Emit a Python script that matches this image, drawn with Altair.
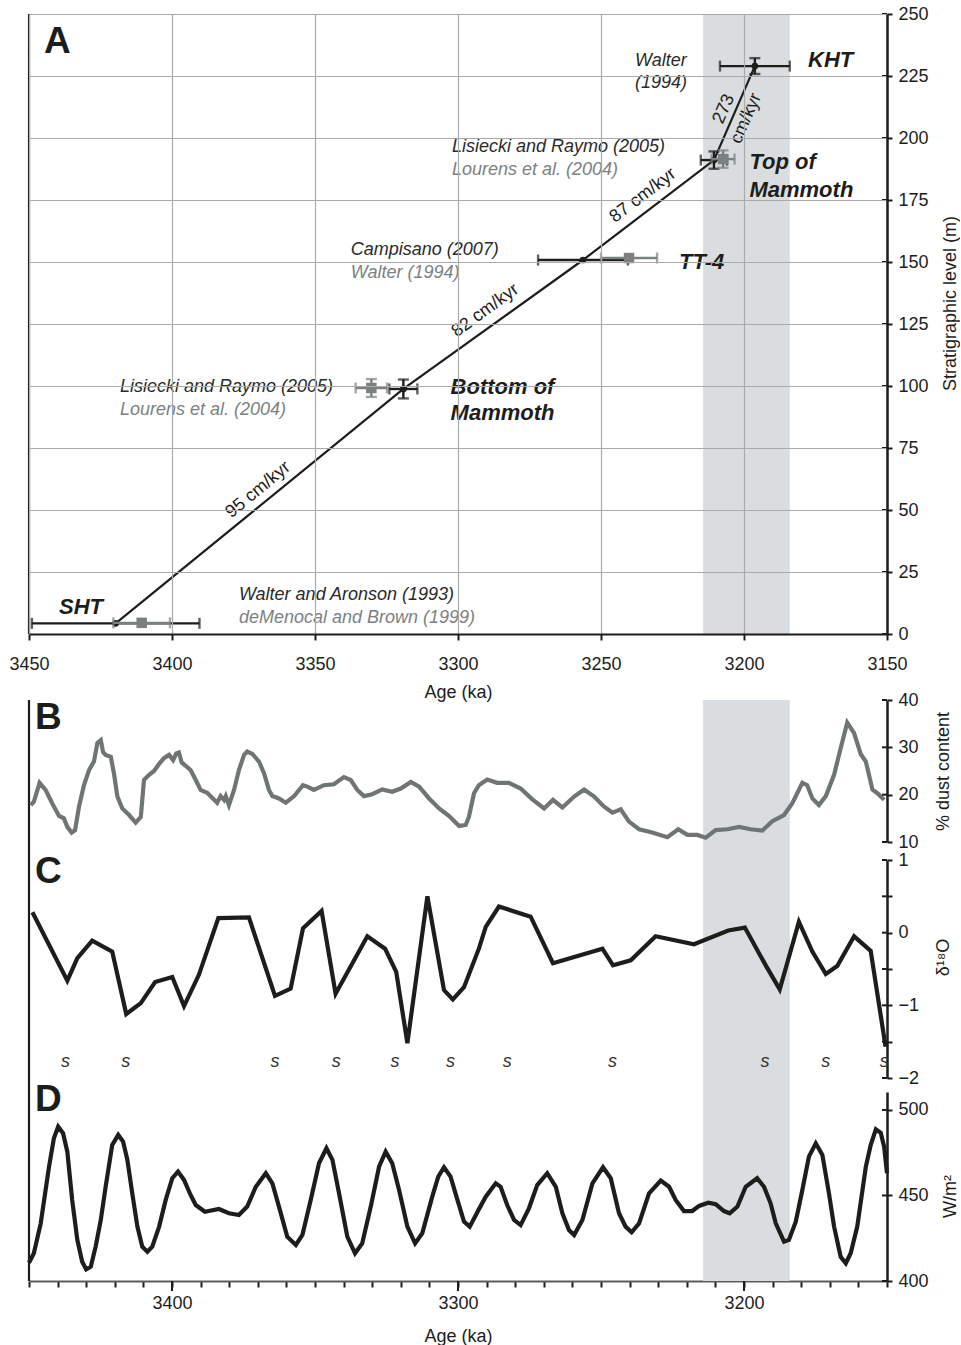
import altair as alt
import pandas as pd

# ---------------- data ----------------
# Panel A: tie points (black = ages used, grey = alternative ages)
tie_event = ["SHT", "Bottom of Mammoth", "TT-4", "Top of Mammoth", "KHT"]
tie_age = [3419.7, 3319.1, 3256.3, 3210.5, 3196.2]
tie_level = [4.3, 98.8, 150.8, 191.1, 229.0]
tie_age_err = [29.3, 4.9, 15.7, 4.6, 12.2]
tie_level_err = [0.0, 3.8, 0.0, 3.5, 3.2]

alt_event = ["SHT", "Bottom of Mammoth", "TT-4", "Top of Mammoth"]
alt_age = [3410.6, 3330.3, 3240.2, 3207.3]
alt_level = [4.5, 99.2, 151.6, 191.5]
alt_age_err = [9.9, 5.5, 9.8, 4.0]
alt_level_err = [0.0, 3.6, 0.0, 3.5]

band_start, band_end = 3214.3, 3184.0

rate_text = ["95 cm/kyr", "82 cm/kyr", "87 cm/kyr", "273", "cm/kyr"]
rate_age = [3369.9, 3290.4, 3235.3, 3207.0, 3199.2]
rate_level = [58.1, 130.4, 176.8, 211.7, 207.9]
rate_angle = [320.5, 324.0, 322.6, 293.6, 293.6]

note_text = ["Walter", "(1994)", "Lisiecki and Raymo (2005)", "Campisano (2007)",
             "Lisiecki and Raymo (2005)", "Walter and Aronson (1993)"]
note_age = [3238.1, 3238.1, 3302.1, 3337.5, 3418.2, 3376.6]
note_level = [231.2, 222.2, 196.4, 154.8, 99.6, 15.7]

gray_note_text = ["Lourens et al. (2004)", "Walter (1994)", "Lourens et al. (2004)",
                  "deMenocal and Brown (1999)"]
gray_note_age = [3302.1, 3337.5, 3418.2, 3376.6]
gray_note_level = [187.1, 145.7, 90.3, 6.3]

event_text = ["KHT", "Top of", "Mammoth", "TT-4", "Bottom of", "Mammoth", "SHT"]
event_age = [3177.6, 3198.1, 3198.1, 3222.7, 3302.6, 3302.6, 3439.5]
event_level = [231.5, 190.4, 179.0, 150.1, 99.7, 89.1, 11.0]

# Panel B: % dust content
b_age = [3449.4, 3448.3, 3446.3, 3444.2, 3441.9, 3439.5, 3437.8, 3436.6, 3435.1, 3433.9,
         3432.5, 3430.8, 3429.0, 3427.3, 3426.1, 3424.9, 3424.1, 3423.2, 3421.4, 3420.3,
         3419.1, 3417.4, 3415.0, 3412.7, 3410.9, 3409.8, 3408.0, 3406.3, 3404.5, 3402.8,
         3401.0, 3399.6, 3398.5, 3397.6, 3396.6, 3395.2, 3393.5, 3391.7, 3390.0, 3387.7,
         3385.7, 3384.2, 3383.0, 3381.8, 3381.2, 3380.1, 3378.3, 3376.6, 3374.8, 3373.7,
         3371.9, 3369.6, 3367.8, 3366.1, 3364.9, 3362.6, 3360.2, 3357.3, 3354.2, 3352.7,
         3350.4, 3346.9, 3343.4, 3339.9, 3337.5, 3335.2, 3332.9, 3330.0, 3326.5, 3323.0,
         3320.0, 3316.5, 3313.6, 3310.1, 3306.6, 3303.1, 3299.6, 3297.3, 3296.2, 3294.4,
         3292.7,
         3289.8, 3286.3, 3282.2, 3278.1, 3274.0, 3269.9, 3266.8, 3263.5, 3259.4, 3255.9,
         3252.4, 3249.0, 3246.0, 3243.1, 3240.2, 3236.7, 3232.1, 3226.8, 3223.0, 3219.8,
         3216.3, 3213.4, 3209.9, 3205.8, 3201.7, 3197.7, 3193.6, 3190.1, 3186.0, 3183.1,
         3179.6, 3177.9, 3176.1, 3173.8, 3171.4, 3168.5, 3166.2, 3163.9, 3161.5, 3159.2,
         3157.4, 3155.1, 3153.0, 3151.0]
b_val = [17.8, 18.5, 22.5, 21.0, 18.2, 15.5, 15.0, 13.2, 12.0, 12.5,
         17.5, 22.0, 25.2, 27.0, 30.9, 31.5, 29.0, 28.4, 28.0, 24.5,
         19.6, 17.1, 15.7, 14.1, 15.3, 23.1, 24.2, 25.0, 26.5, 27.7,
         28.4, 27.3, 28.7, 28.9, 26.8, 26.1, 25.2, 23.1, 21.0, 20.4,
         19.2, 18.3, 19.7, 18.9, 19.7, 17.8, 21.0, 25.2, 28.4, 29.1,
         28.6, 27.0, 24.5, 21.0, 19.7, 19.2, 18.3, 19.7, 22.0, 21.7,
         21.0, 22.0, 22.2, 23.7, 23.1, 21.0, 19.7, 20.1, 21.1, 20.6,
         21.3, 22.7, 21.7, 19.2, 17.1, 15.5, 13.4, 13.6, 15.3, 20.3,
         22.0,
         23.2, 22.5, 22.5, 21.3, 19.0, 17.1, 18.9, 17.3, 19.6, 21.1,
         19.6, 17.5, 16.2, 16.9, 14.3, 12.7, 12.0, 11.0, 12.7, 11.5,
         11.5, 10.9, 12.5, 12.7, 13.2, 12.7, 12.4, 14.4, 15.7, 18.2,
         22.5, 22.0, 19.2, 17.8, 19.7, 24.2, 29.8, 35.2, 33.0, 28.6,
         27.0, 21.1, 20.1, 18.9]

# Panel C: delta 18O
c_age = [3448.8, 3436.6, 3433.1, 3427.9, 3420.9, 3416.0, 3410.9, 3405.9, 3399.9, 3395.8,
         3390.6, 3383.8, 3373.1, 3364.0, 3358.5, 3354.2, 3347.7, 3342.8, 3331.7, 3325.5,
         3321.6, 3317.7, 3310.7, 3304.9, 3301.8, 3297.9, 3292.7, 3290.3, 3285.7, 3274.6,
         3266.8, 3249.5, 3245.8, 3239.6, 3230.9, 3217.5, 3205.5, 3199.7, 3192.4, 3187.5,
         3180.8, 3176.1, 3171.4, 3167.4, 3161.5, 3155.7, 3150.5]
c_val = [0.28, -0.66, -0.35, -0.11, -0.26, -1.12, -0.97, -0.68, -0.61, -1.01,
         -0.58, 0.20, 0.21, -0.87, -0.77, 0.06, 0.30, -0.84, -0.05, -0.22,
         -0.54, -1.52, 0.50, -0.79, -0.92, -0.75, -0.22, 0.08, 0.36, 0.22,
         -0.42, -0.22, -0.45, -0.38, -0.05, -0.16, 0.03, 0.07, -0.45, -0.78,
         0.15, -0.26, -0.57, -0.46, -0.05, -0.25, -1.57]
s_age = [3437.2, 3416.2, 3364.0, 3342.6, 3322.0, 3302.6, 3282.8, 3246.0, 3192.7, 3171.4, 3151.0]

# Panel D: insolation (W/m2)
d_age = [3450.0, 3448.3, 3445.9, 3443.0, 3441.3, 3439.8, 3438.1, 3436.6, 3434.9, 3433.1,
         3431.4, 3430.0, 3428.4, 3426.7, 3424.9, 3423.2, 3420.9, 3418.8, 3417.1, 3415.6,
         3413.9, 3412.1, 3410.4, 3408.6, 3406.9, 3404.5, 3402.2, 3399.9, 3397.9, 3395.8,
         3393.5, 3391.7, 3388.5, 3383.6, 3380.1, 3376.6, 3373.7, 3370.7, 3367.2, 3364.9,
         3362.6, 3359.7, 3356.7, 3354.4, 3351.5, 3348.6, 3346.0, 3343.9, 3341.6, 3338.7,
         3336.0, 3333.5, 3330.5, 3327.6, 3325.3, 3323.0, 3320.6, 3317.7, 3315.0, 3312.5,
         3309.0, 3306.9, 3304.9, 3302.6, 3300.2, 3297.9, 3295.9, 3292.7, 3290.3, 3286.8,
         3285.1, 3282.8, 3280.4, 3278.1, 3275.2, 3272.3, 3268.8, 3265.8, 3263.5, 3261.2,
         3259.4, 3256.5, 3253.0, 3249.3, 3246.6, 3243.7, 3241.4, 3239.3, 3236.7, 3233.2,
         3229.1, 3226.2, 3223.9, 3221.0, 3218.1, 3215.7, 3212.5, 3209.9, 3207.0, 3205.0,
         3202.3, 3199.4, 3195.4, 3193.0, 3190.7, 3188.9, 3186.0, 3184.3, 3181.9, 3179.6,
         3177.3, 3174.9, 3172.6, 3170.3, 3168.5, 3166.2, 3164.4, 3162.7, 3160.4, 3157.4,
         3155.7, 3153.9, 3152.2, 3151.0, 3150.0]
d_val = [410.7, 416.2, 433.7, 466.8, 483.4, 490.2, 486.4, 475.6, 447.4, 424.0,
         411.3, 406.8, 408.4, 420.1, 435.7, 455.1, 479.5, 485.4, 481.5, 470.8,
         451.3, 431.8, 420.1, 417.1, 420.1, 431.8, 447.4, 460.1, 464.0, 459.1,
         450.3, 444.4, 440.5, 442.1, 439.6, 438.6, 443.5, 455.1, 463.0, 457.1,
         443.5, 425.9, 421.1, 426.9, 447.4, 468.8, 477.6, 470.8, 451.3, 425.9,
         416.2, 422.0, 443.5, 466.8, 475.6, 468.8, 453.2, 431.8, 422.0, 427.9,
         449.3, 461.0, 466.5, 461.0, 447.4, 434.7, 431.8, 442.0, 449.3, 457.1,
         455.1, 444.4, 435.7, 432.7, 442.5, 456.1, 463.0, 455.1, 439.6, 429.8,
         426.9, 435.7, 457.1, 466.5, 460.1, 439.6, 431.8, 428.5, 433.7, 451.3,
         458.7, 455.1, 447.4, 440.9, 440.9, 443.9, 445.8, 444.9, 440.9, 439.6,
         443.5, 455.1, 460.1, 455.1, 445.4, 433.7, 423.0, 424.0, 434.7, 453.2,
         472.7, 480.5, 473.7, 451.3, 431.8, 414.2, 410.4, 416.2, 431.8, 466.8,
         479.5, 488.7, 486.7, 478.5, 463.0]
d_major_ticks = [3400, 3300, 3200]

# ---------------- styling ----------------
FONT = "Liberation Sans"
BLACK = "#1d1d1b"
GRAY = "#7b8180"
GRAY_TXT = "#7c8182"
LINE_B = "#6f7574"
BAND = "#d9dddf"
GRID = "#a9abab"

W = 858
HA = 620
HB = 226
HC = 232
HD = 189

xs = alt.Scale(domain=[3150, 3450], reverse=True, nice=False, zero=False)

one = pd.DataFrame({"k": [0]})
band_df = pd.DataFrame({"start": [band_start], "end": [band_end]})


def right_axis(values, title, title_y=None, grid=False, label_expr=None, zindex=0, fmt=None,
               title_pad=16):
    kw = dict(orient="right", values=values, grid=grid, gridColor=GRID, gridWidth=1.2,
              domainColor=BLACK, domainWidth=2.5, tickColor=BLACK, tickWidth=2, tickSize=5,
              labelPadding=6, labelFontSize=18, labelColor=BLACK, labelOverlap=False,
              title=title, titleFontSize=18, titleFontWeight="normal", titleColor=BLACK,
              titleAngle=270, titleBaseline="top", titlePadding=title_pad, zindex=zindex)
    if title_y is not None:
        kw["titleY"] = title_y
    if label_expr is not None:
        kw["labelExpr"] = label_expr
    if fmt is not None:
        kw["format"] = fmt
    return alt.Axis(**kw)


class Panel:
    """Helpers that give every layer of one panel the same scales and axes."""

    def __init__(self, xaxis, yscale, yaxis):
        self.xaxis = xaxis
        self.yscale = yscale
        self.yaxis = yaxis

    def X(self, f):
        return alt.X(f"{f}:Q", scale=xs, axis=self.xaxis)

    def Y(self, f):
        return alt.Y(f"{f}:Q", scale=self.yscale, axis=self.yaxis)

    def band(self, y0, y1):
        return alt.Chart(band_df).mark_rect(color=BAND).encode(
            x=self.X("start"), x2="end:Q", y=alt.value(y0), y2=alt.value(y1))

    def cross_ticks(self, values):
        return alt.Chart(pd.DataFrame({"t": values})).mark_rule(
            color=BLACK, strokeWidth=2).encode(
            x=alt.value(W - 5), x2=alt.value(W), y=self.Y("t"))


def left_rule(y0, y1):
    return alt.Chart(one).mark_rule(color=BLACK, strokeWidth=2.2).encode(
        x=alt.value(0), y=alt.value(y0), y2=alt.value(y1))


def letter(txt, x, y):
    return alt.Chart(one).mark_text(fontSize=37, fontWeight="bold", align="left",
                                    baseline="middle", color=BLACK).encode(
        x=alt.value(x), y=alt.value(y), text=alt.value(txt))


# ---------------- panel A ----------------
axA_x = alt.Axis(values=list(range(3150, 3451, 50)), format="d", title="Age (ka)",
                 grid=True, gridColor=GRID, gridWidth=1.2, domainColor=BLACK, domainWidth=2.2,
                 tickColor=BLACK, tickWidth=2, tickSize=6, labelPadding=15, labelFontSize=18,
                 labelColor=BLACK, labelFlush=False, labelOverlap=False, titleFontSize=18,
                 titleFontWeight="normal", titleColor=BLACK, titlePadding=10, zindex=1)
axA_y = right_axis(list(range(0, 251, 25)), "Stratigraphic level (m)", title_y=289,
                   grid=True, zindex=1, title_pad=13)
pA = Panel(axA_x, alt.Scale(domain=[0, 250], nice=False, zero=False), axA_y)

tie = pd.DataFrame({"event": tie_event, "age": tie_age, "level": tie_level,
                    "xe": tie_age_err, "ye": tie_level_err})
alt_df = pd.DataFrame({"event": alt_event, "age": alt_age, "level": alt_level,
                       "xe": alt_age_err, "ye": alt_level_err})


def error_layers(df, color, point_mark):
    d = df.copy()
    d["xlo"] = d["age"] - d["xe"]
    d["xhi"] = d["age"] + d["xe"]
    d["ylo"] = d["level"] - d["ye"]
    d["yhi"] = d["level"] + d["ye"]
    caps_x = pd.concat([d[["xlo", "level"]].rename(columns={"xlo": "x"}),
                        d[["xhi", "level"]].rename(columns={"xhi": "x"})])
    dv = d[d["ye"] > 0]
    caps_y = pd.concat([dv[["age", "ylo"]].rename(columns={"ylo": "y"}),
                        dv[["age", "yhi"]].rename(columns={"yhi": "y"})])
    return [
        alt.Chart(d).mark_rule(color=color, strokeWidth=2.4).encode(
            x=pA.X("xlo"), x2="xhi:Q", y=pA.Y("level")),
        alt.Chart(caps_x).mark_tick(orient="vertical", color=color, size=11, thickness=2.4).encode(
            x=pA.X("x"), y=pA.Y("level")),
        alt.Chart(dv).mark_rule(color=color, strokeWidth=2.4).encode(
            x=pA.X("age"), y=pA.Y("ylo"), y2="yhi:Q"),
        alt.Chart(caps_y).mark_tick(orient="horizontal", color=color, size=11, thickness=2.4).encode(
            x=pA.X("age"), y=pA.Y("y")),
        point_mark(alt.Chart(d)).encode(x=pA.X("age"), y=pA.Y("level")),
    ]


main_line = alt.Chart(tie).mark_line(color=BLACK, strokeWidth=2.2).encode(
    x=pA.X("age"), y=pA.Y("level"))

rates = pd.DataFrame({"t": rate_text, "age": rate_age, "level": rate_level, "ang": rate_angle})
notes = pd.DataFrame({"t": note_text, "age": note_age, "level": note_level})
gnotes = pd.DataFrame({"t": gray_note_text, "age": gray_note_age, "level": gray_note_level})
events = pd.DataFrame({"t": event_text, "age": event_age, "level": event_level})

rate_layer = alt.Chart(rates).mark_text(fontSize=18, color=BLACK, align="center",
                                        baseline="middle").encode(
    x=pA.X("age"), y=pA.Y("level"), text="t:N", angle=alt.Angle("ang:Q", scale=None))
note_layer = alt.Chart(notes).mark_text(fontSize=18, fontStyle="italic", color="#2a2a28",
                                        align="left", baseline="middle").encode(
    x=pA.X("age"), y=pA.Y("level"), text="t:N")
gnote_layer = alt.Chart(gnotes).mark_text(fontSize=18, fontStyle="italic", color=GRAY_TXT,
                                          align="left", baseline="middle").encode(
    x=pA.X("age"), y=pA.Y("level"), text="t:N")
event_layer = alt.Chart(events).mark_text(fontSize=22, fontStyle="italic", fontWeight="bold",
                                          color=BLACK, align="left", baseline="middle").encode(
    x=pA.X("age"), y=pA.Y("level"), text="t:N")

panelA = alt.layer(
    pA.band(0, HA),
    main_line,
    *error_layers(tie, BLACK, lambda c: c.mark_circle(size=45, color=BLACK, opacity=1)),
    *error_layers(alt_df, GRAY, lambda c: c.mark_square(size=110, color=GRAY, opacity=1)),
    rate_layer, note_layer, gnote_layer, event_layer,
    left_rule(0, HA),
    pA.cross_ticks(list(range(0, 251, 25))),
    letter("A", 15, 28),
).properties(width=W, height=HA)

# ---------------- panel B ----------------
pB = Panel(None, alt.Scale(domain=[10, 40], range=[208, 66], nice=False, zero=False),
           right_axis([10, 20, 30, 40], "% dust content"))
lineB = alt.Chart(pd.DataFrame({"age": b_age, "v": b_val})).mark_line(
    color=LINE_B, strokeWidth=4.2).encode(x=pB.X("age"), y=pB.Y("v"))
panelB = alt.layer(
    pB.band(66, HB), left_rule(66, HB), lineB,
    pB.cross_ticks([10, 20, 30, 40]), letter("B", 6, 84),
).properties(width=W, height=HB)

# ---------------- panel C ----------------
c_ticks = [-2, -1.5, -1, -0.5, 0, 0.5, 1]
pC = Panel(None, alt.Scale(domain=[-2, 1], range=[218, 0], nice=False, zero=False),
           right_axis(c_ticks, "δ¹⁸O", title_y=97, fmt=".0f",
                      label_expr="datum.value % 1 == 0 ? datum.label : ''"))
lineC = alt.Chart(pd.DataFrame({"age": c_age, "v": c_val})).mark_line(
    color=BLACK, strokeWidth=4.2, strokeJoin="miter").encode(x=pC.X("age"), y=pC.Y("v"))
s_layer = alt.Chart(pd.DataFrame({"age": s_age, "t": ["s"] * len(s_age)})).mark_text(
    fontSize=18, fontStyle="italic", color="#333333", align="center", baseline="middle").encode(
    x=pC.X("age"), y=alt.value(202), text="t:N")
panelC = alt.layer(
    pC.band(0, HC), left_rule(0, HC), lineC, s_layer,
    pC.cross_ticks(c_ticks), letter("C", 6, 12),
).properties(width=W, height=HC)

# ---------------- panel D ----------------
axD_x = alt.Axis(values=list(range(3150, 3451, 10)), format="d",
                 labelExpr="datum.value % 100 == 0 ? datum.label : ''", title="Age (ka)",
                 grid=False, domainColor="#5c5c5c", domainWidth=2.2, tickColor=BLACK, tickWidth=2,
                 tickSize=6, labelPadding=7, labelFontSize=18, labelColor=BLACK, labelFlush=False,
                 labelOverlap=False, titleFontSize=18, titleFontWeight="normal", titleColor=BLACK,
                 titlePadding=15)
pD = Panel(axD_x, alt.Scale(domain=[400, 510.5], nice=False, zero=False),
           right_axis([400, 450, 500], "W/m²", title_y=104, title_pad=13))
lineD = alt.Chart(pd.DataFrame({"age": d_age, "v": d_val})).mark_line(
    color=BLACK, strokeWidth=4.2).encode(x=pD.X("age"), y=pD.Y("v"))
major_ticks = alt.Chart(pd.DataFrame({"age": d_major_ticks})).mark_rule(
    color=BLACK, strokeWidth=2).encode(x=pD.X("age"), y=alt.value(HD), y2=alt.value(HD + 10))
panelD = alt.layer(
    pD.band(0, HD), left_rule(0, HD), lineD, major_ticks,
    pD.cross_ticks([400, 450, 500]), letter("D", 6, 8),
).properties(width=W, height=HD)

chart = alt.vconcat(panelA, panelB, panelC, panelD, spacing=0, bounds="flush").properties(
    padding={"left": 8, "top": 5, "right": 0, "bottom": 0}
).configure_view(stroke=None).configure_axis(labelFont=FONT, titleFont=FONT).configure_text(font=FONT)

chart.save("out.html", embed_options={"renderer": "svg", "actions": False})
